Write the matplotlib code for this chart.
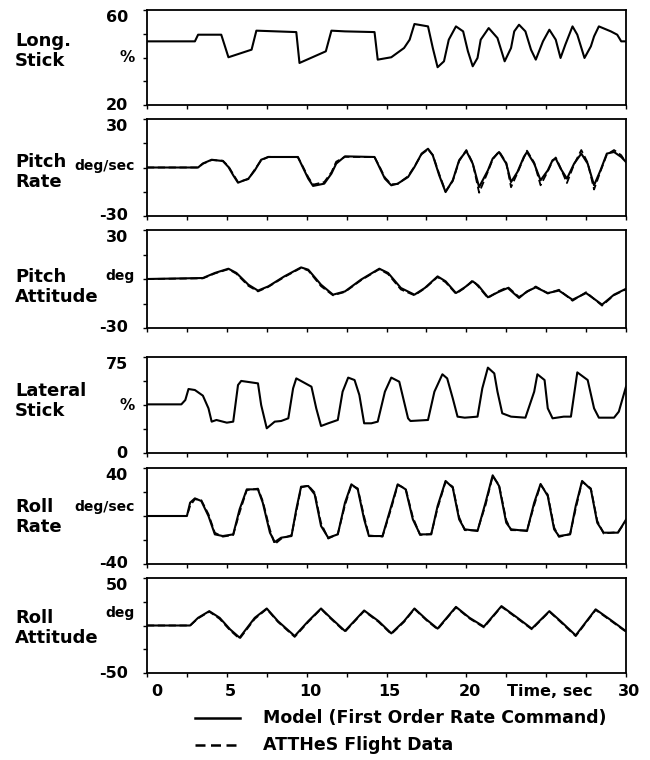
import matplotlib
matplotlib.use("Agg")
import matplotlib.pyplot as plt
from matplotlib.lines import Line2D
from matplotlib.transforms import blended_transform_factory

# --- Long. stick (%) ---
long_t = [0, 3.0, 3.2, 4.65, 4.85, 5.1, 6.55, 6.85, 9.35, 9.55, 11.2, 11.55, 12.4, 14.25,
          14.45, 15.3, 16.1, 16.45, 16.75, 17.6, 17.9, 18.2, 18.6, 18.9, 19.35, 19.8,
          20.1, 20.4, 20.7, 20.9, 21.4, 21.95, 22.4, 22.8, 23.0, 23.3, 23.7, 24.05,
          24.35, 24.8, 25.2, 25.6, 25.9, 26.2, 26.65, 26.95, 27.4, 27.8, 28.0, 28.3,
          29.05, 29.45, 29.7, 30]
long_stick = [46.8, 46.8, 49.6, 49.6, 45.4, 40.1, 43.3, 51.3, 50.7, 37.7, 42.6, 51.3, 51.0, 50.7,
              39.1, 40.1, 44.0, 47.5, 54.1, 53.1, 44.0, 35.9, 38.4, 47.5, 53.1, 51.0,
              42.6, 36.3, 39.8, 47.5, 52.4, 48.2, 38.4, 44.0, 51.0, 53.8, 51.0, 43.3,
              39.1, 46.8, 51.7, 47.5, 39.8, 45.4, 53.1, 49.6, 39.8, 44.7, 48.9, 53.1,
              51.0, 49.6, 46.8, 46.8]

# --- Pitch rate (deg/sec) ---
q_t = [0, 3.2, 3.5, 4.05, 4.75, 5.1, 5.4, 5.7, 6.35, 6.75, 7.15, 7.6, 9.45, 9.75, 10.1,
       10.4, 11.1, 11.55, 11.85, 12.4, 14.25, 14.55, 14.9, 15.3, 15.7, 16.35, 16.75, 17.2,
       17.6, 17.9, 18.3, 18.7, 19.15, 19.55, 20.0, 20.4, 20.8, 21.35, 21.65, 22.05, 22.5,
       22.8, 23.2, 23.6, 23.8, 24.25, 24.65, 25.1, 25.4, 25.6, 25.9, 26.3, 26.75, 27.2,
       27.6, 28.0, 28.4, 28.8, 29.25, 29.7, 30]
q_model = [0, 0, 2.5, 4.8, 4.0, 0.3, -4.8, -9.4, -6.9, -1.8, 4.8, 6.5, 6.5, 0.3, -6.9,
           -11.4, -10.0, -3.8, 2.4, 6.9, 6.5, 0.3, -6.9, -11.0, -10.0, -5.9, 0.3, 8.6,
           11.6, 7.5, -4.8, -15.2, -7.9, 4.5, 10.2, 2.4, -12.1, -1.8, 5.5, 9.6, 2.4,
           -9.0, -2.8, 6.5, 9.6, 2.4, -7.9, -1.8, 4.5, 5.5, -0.6, -6.9, 2.4, 8.6,
           2.4, -11.0, -1.8, 8.6, 9.6, 6.5, 3.4]
q_flight = [0, 0, 2.3, 4.6, 4.2, 0.8, -4.2, -9.0, -7.2, -1.2, 4.4, 6.6, 6.4, 0.8, -6.0,
            -10.6, -9.0, -3.0, 3.6, 6.6, 6.4, 0.9, -6.2, -10.4, -10.2, -5.4, 0.6, 8.2,
            11.2, 7.8, -4.0, -14.8, -8.4, 4.0, 10.8, 2.8, -15.6, -2.6, 5.0, 10.0, 3.0,
            -12.2, -3.4, 6.0, 10.4, 3.0, -11.0, -2.4, 4.0, 6.2, -0.2, -9.6, 2.0, 10.8,
            3.0, -13.6, -2.4, 8.0, 10.8, 7.6, 3.0]

# --- Pitch attitude (deg) ---
th_t = [0, 3.5, 4.25, 5.1, 5.6, 6.35, 6.95, 7.6, 8.6, 9.65, 10.1, 10.9, 11.65, 12.4, 13.4,
        14.55, 15.1, 15.9, 16.75, 17.4, 18.2, 18.7, 19.35, 19.9, 20.4, 20.75, 21.35, 22.0,
        22.6, 23.3, 23.8, 24.35, 25.1, 25.8, 26.65, 27.5, 28.5, 29.25, 30]
th_model = [0, 0.6, 3.7, 6.3, 3.7, -3.5, -7.1, -4.5, 1.6, 7.1, 5.7, -3.5, -9.6, -7.6, -0.4,
            6.3, 3.7, -5.5, -9.6, -5.5, 1.6, -1.4, -8.6, -5.1, -1.4, -4.0, -11.2, -8.0,
            -5.5, -11.6, -7.6, -5.1, -8.6, -7.1, -12.7, -8.6, -15.7, -9.6, -6.0]
th_flight = [0, 0.4, 3.4, 6.0, 3.2, -4.2, -7.6, -4.8, 1.2, 6.8, 5.2, -4.4, -10.0, -7.9, -0.8,
             6.0, 3.0, -6.4, -10.0, -5.8, 1.2, -2.0, -9.0, -5.4, -0.8, -4.6, -11.6, -7.6,
             -4.9, -11.0, -7.9, -4.6, -8.9, -6.6, -13.3, -8.1, -16.3, -9.9, -6.3]

# --- Lateral stick (%) ---
lat_t = [0, 2.15, 2.4, 2.6, 3.0, 3.5, 3.85, 4.05, 4.35, 5.0, 5.4, 5.7, 5.9, 6.95, 7.15,
         7.5, 8.0, 8.4, 8.85, 9.15, 9.35, 10.3, 10.6, 10.9, 11.35, 11.95, 12.25, 12.6,
         13.0, 13.3, 13.6, 14.05, 14.45, 14.9, 15.3, 15.8, 16.35, 16.5, 17.6, 18.0,
         18.5, 18.8, 19.15, 19.45, 19.9, 20.7, 21.0, 21.35, 21.75, 21.95, 22.25, 22.8,
         23.7, 24.25, 24.45, 24.9, 25.1, 25.4, 26.1, 26.55, 26.95, 27.6, 28.0, 28.3,
         29.25, 29.55, 30]
lat_stick = [38, 38, 41.4, 50.0, 49.2, 44.8, 34.9, 24.5, 25.8, 23.7, 24.5, 53.1, 56.3, 54.4, 37.5,
             19.3, 24.5, 25.0, 27.1, 50.5, 58.3, 51.8, 34.9, 21.1, 23.2, 25.8, 47.9, 58.9,
             57.0, 45.3, 23.2, 23.2, 24.5, 47.9, 58.9, 55.7, 27.1, 25.0, 25.8, 47.9,
             61.5, 58.3, 42.7, 28.4, 27.6, 28.4, 50.5, 66.7, 62.2, 47.9, 31.0, 28.4,
             27.6, 47.9, 61.5, 57.0, 34.9, 27.1, 28.4, 28.4, 63.0, 57.0, 34.9, 27.6,
             27.6, 32.3, 51.8]

# --- Roll rate (deg/sec) ---
p_t = [0, 2.5, 2.7, 3.0, 3.4, 3.85, 4.25, 4.75, 5.4, 5.8, 6.25, 6.95, 7.25, 7.7, 8.0,
       8.4, 9.05, 9.35, 9.65, 10.1, 10.5, 10.9, 11.35, 11.95, 12.4, 12.8, 13.2, 13.6,
       13.9, 14.75, 15.3, 15.7, 16.2, 16.65, 17.1, 17.8, 18.2, 18.7, 19.15, 19.55, 19.9,
       20.7, 21.2, 21.65, 22.05, 22.5, 22.8, 23.8, 24.25, 24.65, 25.1, 25.5, 25.8, 26.5,
       26.85, 27.25, 27.8, 28.2, 28.6, 29.5, 30]
p_model = [0, 0, 11.1, 14.7, 12.5, 0, -15.3, -16.7, -15.3, 5.6, 22.2, 22.2, 11.1, -13.9, -21.7,
           -18.1, -16.7, 5.6, 24.4, 25.0, 18.1, -8.3, -18.1, -15.3, 11.1, 26.4, 22.2, -2.8,
           -16.7, -16.7, 8.3, 26.4, 22.2, -2.8, -15.3, -15.3, 8.3, 29.2, 23.6, -2.8, -11.1,
           -12.5, 11.1, 33.9, 25.0, -5.6, -11.1, -12.5, 11.1, 26.7, 16.7, -11.1, -16.7, -15.3,
           8.3, 29.2, 22.2, -5.6, -13.9, -13.9, -3.0]
p_flight = [0, 0, 8.5, 14.0, 13.2, 1.5, -14.0, -17.2, -15.8, 3.0, 21.6, 22.8, 12.5, -11.5, -23.5,
            -19.0, -16.0, 3.5, 23.8, 25.4, 19.5, -6.0, -18.8, -15.0, 9.0, 25.8, 23.0, -0.5,
            -16.2, -17.2, 6.5, 25.8, 23.0, -1.0, -15.8, -15.0, 6.5, 28.6, 24.4, -1.0, -11.8,
            -12.0, 9.0, 33.2, 25.8, -3.5, -11.8, -12.0, 9.0, 26.0, 17.8, -9.5, -17.4, -15.0,
            6.0, 28.6, 23.0, -4.0, -14.6, -13.4, -4.0]

# --- Roll attitude (deg) ---
phi_t = [0, 2.7, 3.2, 3.9, 4.55, 5.2, 5.8, 6.75, 7.5, 8.2, 9.25, 10.1, 10.9, 11.5, 12.4,
         13.6, 14.5, 15.3, 16.1, 16.75, 17.5, 18.2, 19.35, 20.2, 21.1, 22.2, 23.2, 24.1,
         25.2, 25.9, 26.85, 28.1, 29.0, 30]
phi_model = [0, 0, 8.1, 15.1, 8.1, -4.0, -12.8, 8.1, 17.9, 4.6, -11.1, 4.6, 17.9, 8.1, -5.8,
             15.8, 4.6, -8.3, 4.6, 17.9, 6.3, -3.3, 19.6, 8.1, -1.2, 20.4, 8.1, -3.3,
             15.1, 4.6, -10.4, 17.0, 6.3, -6.0]
phi_flight = [0, 0, 7.5, 14.6, 7.0, -5.0, -14.0, 7.0, 17.4, 3.8, -12.0, 3.8, 17.4, 7.4, -6.6,
              15.2, 3.8, -9.0, 3.8, 17.4, 5.6, -4.0, 19.0, 7.4, -2.0, 19.8, 7.4, -4.0,
              14.6, 3.8, -11.2, 16.4, 5.6, -6.6]

x_labels = ["0", "5", "10", "15", "20", "Time, sec", "30"]
x_label_pos = [0, 5, 10, 15, 20, 25, 30]
legend_text = ["Model (First Order Rate Command)", "ATTHeS Flight Data"]

plt.rcParams["font.family"] = "DejaVu Sans"
plt.rcParams["font.weight"] = "bold"

W, H = 650, 760
fig = plt.figure(figsize=(6.5, 7.6), dpi=100)


def fx(x):
    return x / W


def fy(y):
    return 1 - y / H


# (top px, bottom px, ylim, name, name y, unit, unit y, series)
panels = [
    (10, 105, (20, 60), "Long.\nStick", 51, "%", 57, [(long_t, long_stick, "-")]),
    (119, 216, (-30, 30), "Pitch\nRate", 172, "deg/sec", 166,
     [(q_t, q_model, "-"), (q_t, q_flight, "--")]),
    (230, 328, (-30, 30), "Pitch\nAttitude", 287, "deg", 276,
     [(th_t, th_model, "-"), (th_t, th_flight, "--")]),
    (357, 453, (0, 75), "Lateral\nStick", 401, "%", 405, [(lat_t, lat_stick, "-")]),
    (468, 564, (-40, 40), "Roll\nRate", 517, "deg/sec", 507,
     [(p_t, p_model, "-"), (p_t, p_flight, "--")]),
    (578, 673, (-50, 50), "Roll\nAttitude", 628, "deg", 613,
     [(phi_t, phi_model, "-"), (phi_t, phi_flight, "--")]),
]

axes = []
for top, bot, ylim, name, name_y, unit, unit_y, series in panels:
    ax = fig.add_axes([fx(147), fy(bot), fx(626) - fx(147), (bot - top) / H])
    for t, v, ls in series:
        if ls == "--":
            ax.plot(t, v, color="black", lw=1.3, dashes=(4, 2))
        else:
            ax.plot(t, v, color="black", lw=1.5)
    ax.set_xlim(0, 30)
    ax.set_ylim(*ylim)
    lo, hi = ylim
    ax.set_yticks([lo + (hi - lo) * k / 4 for k in range(5)])
    ax.set_xticks([2.5 * k for k in range(13)])
    ax.set_yticklabels([])
    ax.set_xticklabels([])
    ax.tick_params(direction="out", length=3, width=1)
    for s in ax.spines.values():
        s.set_linewidth(1.3)
    # limit labels
    ax.text(-0.04, 1.0, str(hi), transform=ax.transAxes, ha="right", va="top", fontsize=11.5)
    ax.text(-0.04, 0.0, str(lo), transform=ax.transAxes, ha="right", va="center", fontsize=11.5)
    fig.text(fx(15), fy(name_y), name, ha="left", va="center", fontsize=13,
             linespacing=1.15)
    fig.text(fx(135), fy(unit_y), unit, ha="right", va="center",
             fontsize=11 if unit == "%" else 10)
    axes.append(ax)

ax6 = axes[-1]
tr = blended_transform_factory(ax6.transData, fig.transFigure)
for xv, lab in zip(x_label_pos, x_labels):
    shift = 0.6 if xv == 0 else 0.2
    ax6.text(xv + shift, fy(692), lab, transform=tr, ha="center", va="center", fontsize=11.5)

fig.add_artist(Line2D([fx(195), fx(240)], [fy(718), fy(718)], color="black", lw=1.8))
fig.add_artist(Line2D([fx(195), fx(240)], [fy(745), fy(745)], color="black", lw=1.8,
                      dashes=(4, 2.2)))
fig.text(fx(263), fy(718), legend_text[0], ha="left", va="center", fontsize=12.5)
fig.text(fx(263), fy(745), legend_text[1], ha="left", va="center", fontsize=12.5)

fig.savefig("out.png", dpi=100)
